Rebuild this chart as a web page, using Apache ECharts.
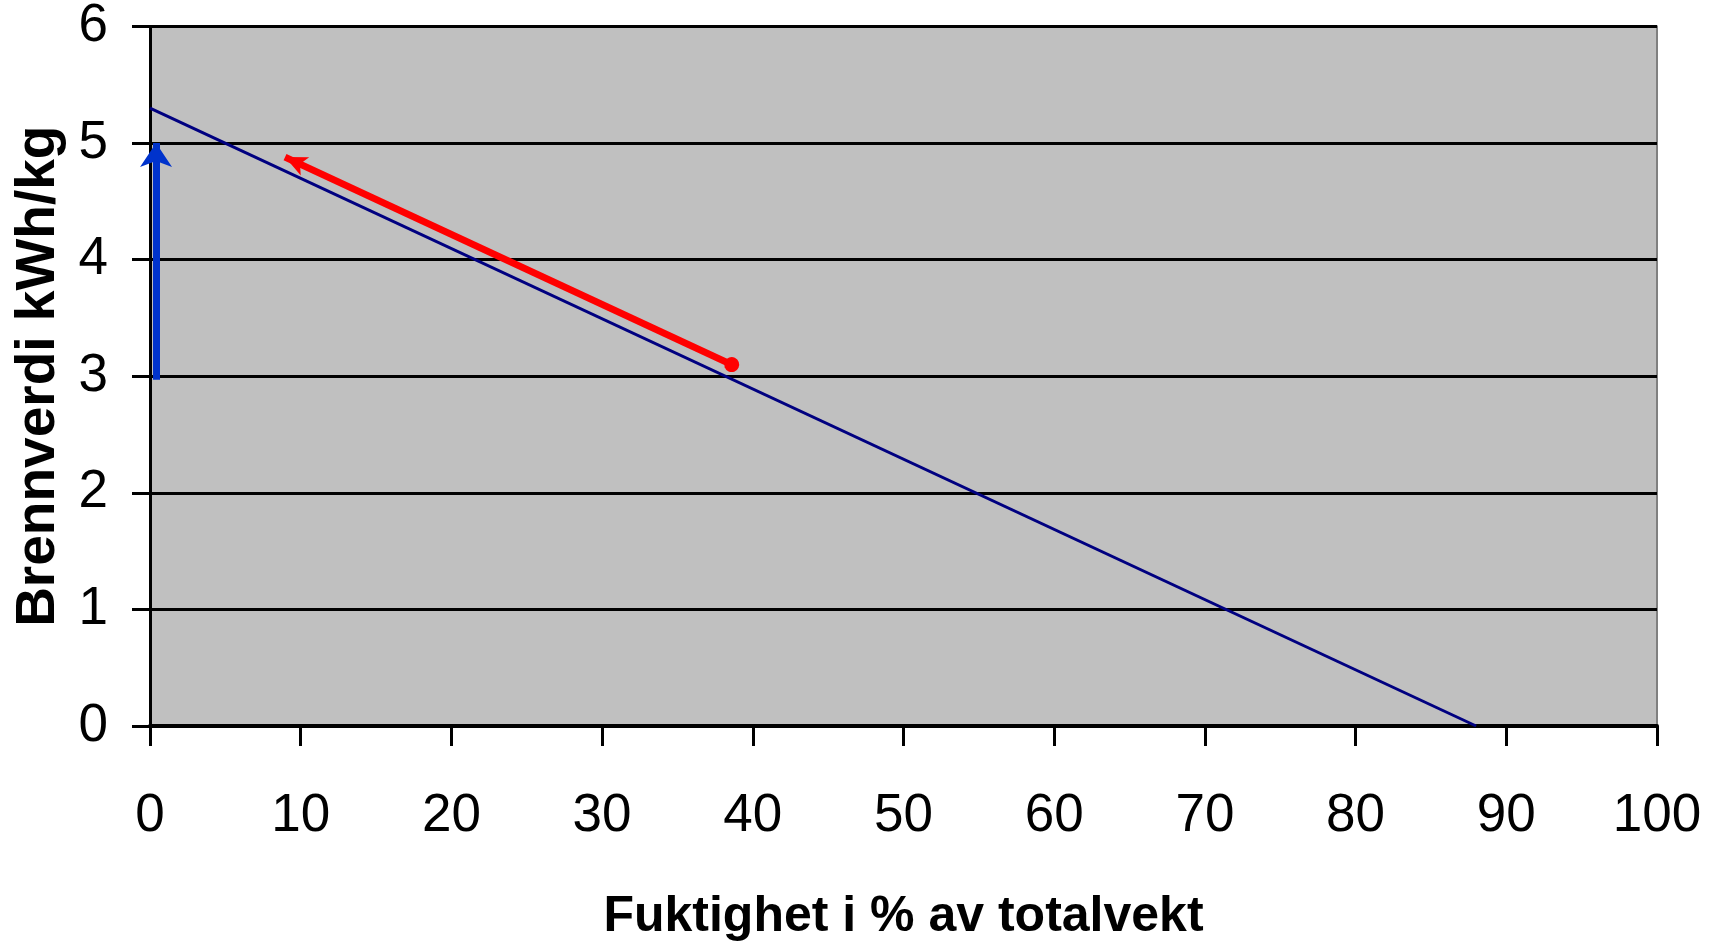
<!DOCTYPE html>
<html>
<head>
<meta charset="utf-8">
<script src="https://cdn.jsdelivr.net/npm/echarts@6/dist/echarts.min.js"></script>
<style>
html,body{margin:0;padding:0;background:#fff;}
#c{width:1716px;height:947px;}
</style>
</head>
<body>
<div id="c"></div>
<script>
const xTitle = 'Fuktighet i % av totalvekt';
const yTitle = 'Brennverdi kWh/kg';
const heatingLine = [[0, 5.3], [88, 0]];
const redArrow = [[38.6, 3.1], [8.96, 4.88]];
const blueArrow = [[0.4, 2.97], [0.4, 5.0]];
const xRange = [0, 100, 10];
const yRange = [0, 6, 1];

const FONT = "'Liberation Sans Narrow', 'Liberation Sans', Arial, sans-serif";
const chart = echarts.init(document.getElementById('c'));
chart.setOption({
  animation: false,
  backgroundColor: '#ffffff',
  grid: {
    left: 150, right: 59, top: 26, bottom: 221,
    show: true, backgroundColor: '#C0C0C0', borderColor: '#808080', borderWidth: 2
  },
  xAxis: {
    type: 'value', min: xRange[0], max: xRange[1], interval: xRange[2],
    name: xTitle, nameLocation: 'middle', nameGap: 166,
    nameTextStyle: { fontFamily: FONT, fontWeight: 'bold', fontSize: 50, color: '#000' },
    axisLine: { onZero: false, lineStyle: { color: '#000', width: 4 } },
    axisTick: { show: true, length: 20, lineStyle: { color: '#000', width: 3 } },
    axisLabel: { fontFamily: FONT, fontSize: 53, color: '#000', margin: 64 },
    splitLine: { show: false }
  },
  yAxis: {
    type: 'value', min: yRange[0], max: yRange[1], interval: yRange[2],
    name: yTitle, nameLocation: 'middle', nameGap: 84, nameRotate: 90,
    nameTextStyle: { fontFamily: FONT, fontWeight: 'bold', fontSize: 55, color: '#000' },
    axisLine: { onZero: false, lineStyle: { color: '#000', width: 3 } },
    axisTick: { show: true, length: 18, lineStyle: { color: '#000', width: 3 } },
    axisLabel: { fontFamily: FONT, fontSize: 53, color: '#000', margin: 42 },
    splitLine: { show: true, lineStyle: { color: '#000', width: 3 } }
  },
  series: [
    {
      type: 'line', data: heatingLine, symbol: 'none',
      lineStyle: { color: '#000080', width: 3 }, z: 3
    },
    {
      type: 'line', data: [], symbol: 'none',
      markLine: {
        silent: true, animation: false,
        symbol: ['circle', 'arrow'], symbolSize: [15, 22],
        label: { show: false },
        lineStyle: { color: '#FF0000', width: 7, type: 'solid' },
        data: [[{ coord: redArrow[0] }, { coord: redArrow[1] }]]
      }, z: 4
    },
    {
      type: 'line', data: [], symbol: 'none', clip: false,
      markLine: {
        silent: true, animation: false,
        symbol: ['none', 'arrow'], symbolSize: 24,
        label: { show: false },
        lineStyle: { color: '#0033CC', width: 7, type: 'solid' },
        data: [[{ coord: blueArrow[0] }, { coord: blueArrow[1] }]]
      }, z: 4
    }
  ]
});
</script>
</body>
</html>
